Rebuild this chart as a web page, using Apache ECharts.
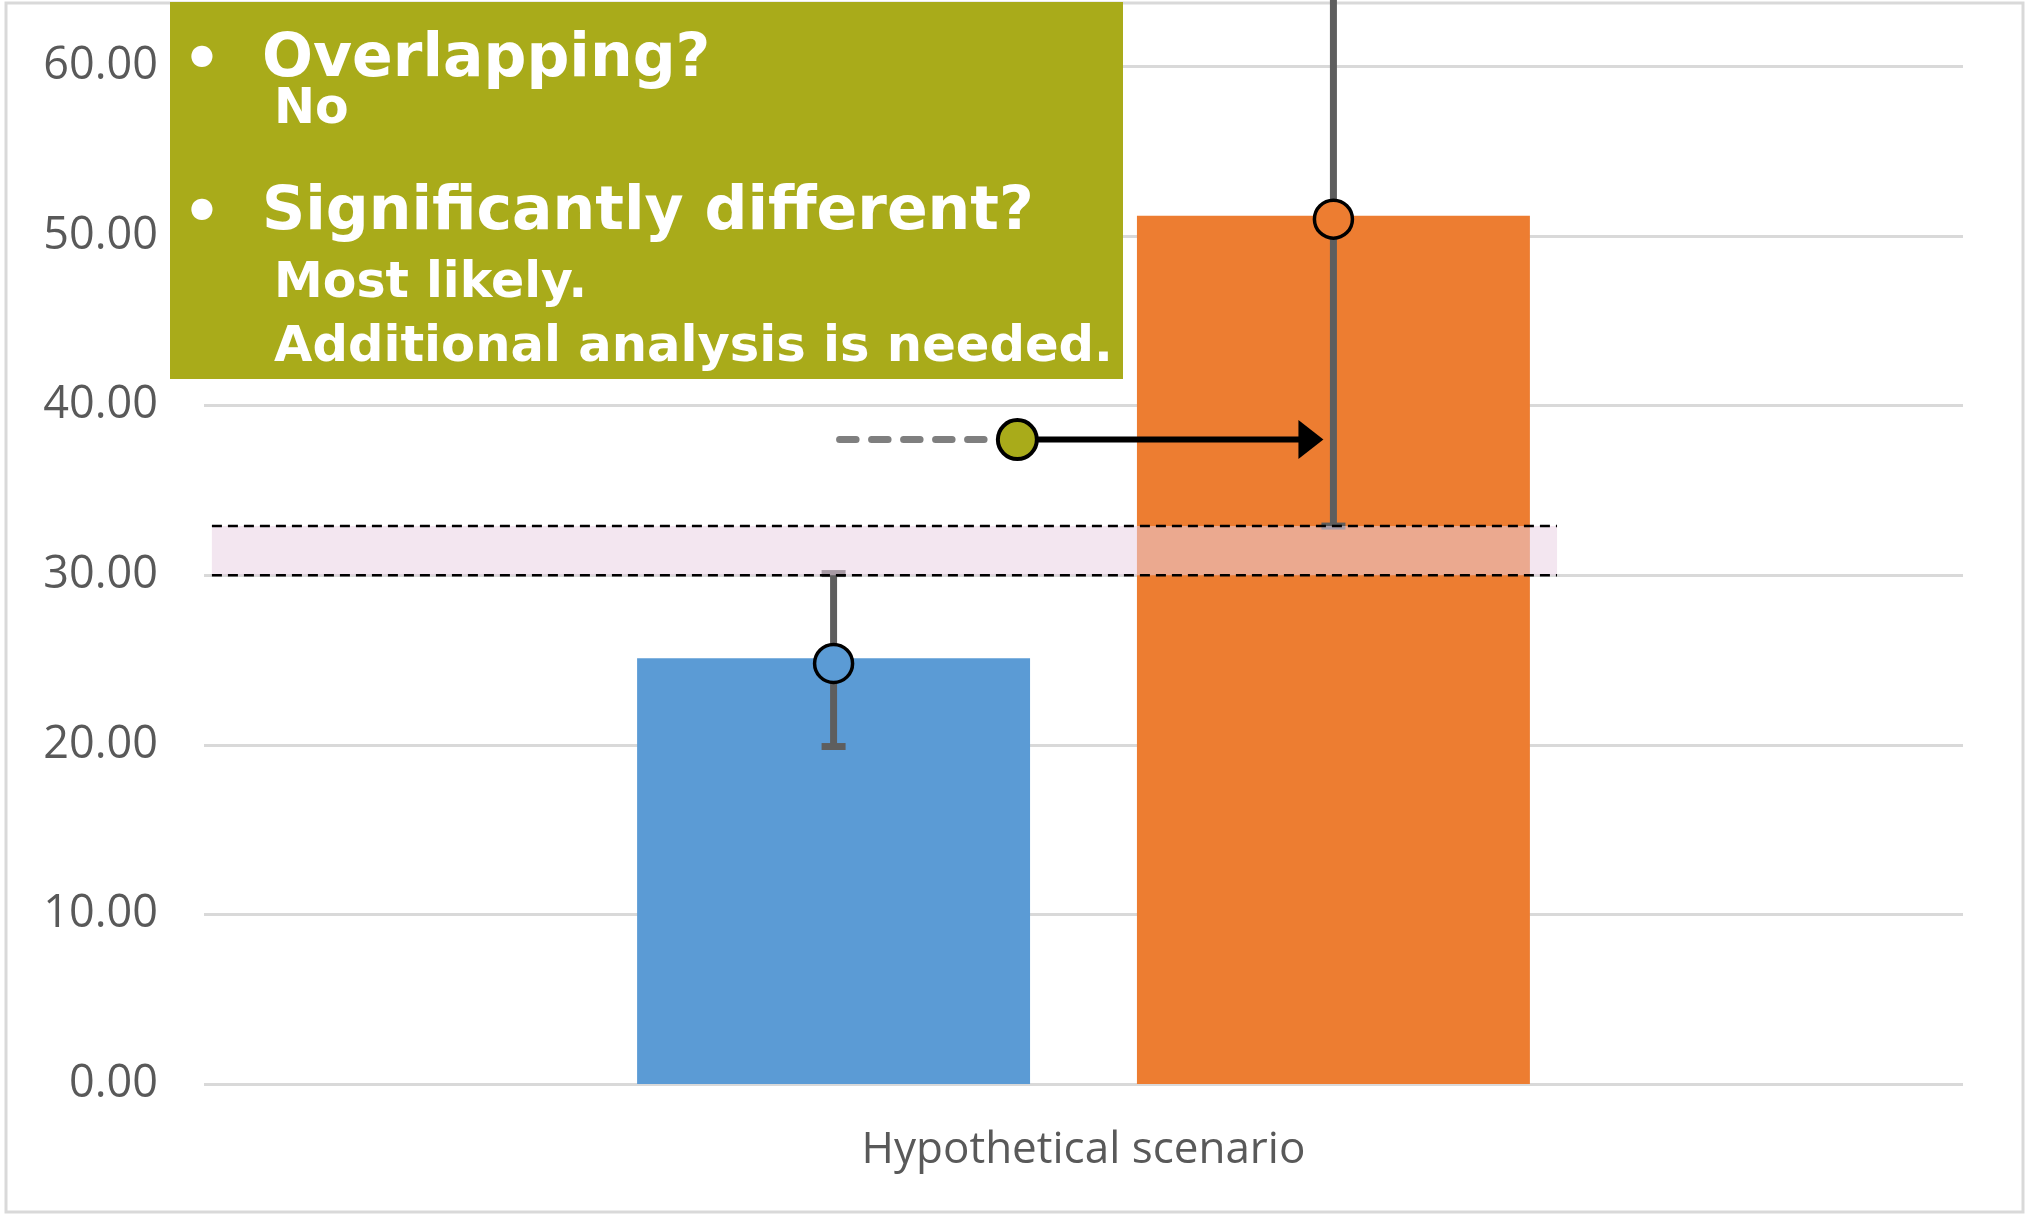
<!DOCTYPE html>
<html>
<head>
<meta charset="utf-8">
<script src="https://cdn.jsdelivr.net/npm/echarts@6/dist/echarts.min.js"></script>
<style>
html,body{margin:0;padding:0;background:#ffffff;}
#chart{width:2028px;height:1215px;}
</style>
</head>
<body>
<div id="chart"></div>
<script>
// ---- data ----
const categories = ['Hypothetical scenario'];
const seriesNames = ['Group A', 'Group B'];
const barValues = [25.1, 51.2];
const pointValues = [24.8, 51.0];
const errorLow = [19.9, 32.9];
const errorHigh = [30.1, 69.1];
const bandRange = [30.0, 32.9];
const arrowLevel = [38];
const yTickValues = [0, 10, 20, 30, 40, 50, 60];
const boxHeadlines = ['Overlapping?', 'Significantly different?'];
const boxAnswers = ['No', 'Most likely.', 'Additional analysis is needed.'];

// ---- layout / style constants ----
const BAR_W = 0.2234;     // bar width as fraction of category band
const BAR_GAP = 0.272;    // gap between bars as fraction of bar width
const colors = ['#5b9bd5', '#ed7d31'];
const OLIVE = '#a9ab1a';
const ERR = '#5e5e5e';

function groupOffset(i, band) {
  return (i - (seriesNames.length - 1) / 2) * band * BAR_W * (1 + BAR_GAP);
}

const chart = echarts.init(document.getElementById('chart'), null, {renderer: 'canvas'});

const option = {
  backgroundColor: '#ffffff',
  animation: false,
  grid: {left: 204, right: 65, top: 66.5, bottom: 131, containLabel: false},
  xAxis: {
    type: 'category',
    data: categories,
    axisLine: {show: false},
    axisTick: {show: false},
    axisLabel: {
      color: '#595959', fontSize: 44, fontFamily: '"Open Sans", sans-serif', margin: 44
    }
  },
  yAxis: {
    type: 'value',
    min: yTickValues[0],
    max: yTickValues[yTickValues.length - 1],
    interval: yTickValues[1] - yTickValues[0],
    axisLine: {show: false},
    axisTick: {show: false},
    axisLabel: {
      color: '#595959', fontSize: 45, fontFamily: '"Open Sans", sans-serif', margin: 46,
      formatter: v => v.toFixed(2)
    },
    splitLine: {lineStyle: {color: '#d9d9d9', width: 3}}
  },
  series: [
    {
      name: seriesNames[0], type: 'bar', data: [barValues[0]],
      barWidth: (BAR_W * 100) + '%', barGap: (BAR_GAP * 100) + '%',
      itemStyle: {color: colors[0]}, z: 2
    },
    {
      name: seriesNames[1], type: 'bar', data: [barValues[1]],
      barWidth: (BAR_W * 100) + '%', barGap: (BAR_GAP * 100) + '%',
      itemStyle: {color: colors[1]}, z: 2
    },
    {
      name: 'error', type: 'custom', clip: false, z: 3,
      data: seriesNames.map((n, i) => [0, errorLow[i], errorHigh[i], i]),
      renderItem: function (params, api) {
        const i = api.value(3);
        const band = api.size([1, 0])[0];
        const cx = api.coord([api.value(0), 0])[0] + groupOffset(i, band);
        const yLo = api.coord([api.value(0), api.value(1)])[1];
        const yHi = api.coord([api.value(0), api.value(2)])[1];
        return {
          type: 'group',
          children: [
            {type: 'line', shape: {x1: cx, y1: yLo, x2: cx, y2: yHi}, style: {stroke: ERR, lineWidth: 7}},
            {type: 'rect', shape: {x: cx - 12, y: yLo - 3.5, width: 24, height: 7}, style: {fill: ERR}},
            {type: 'rect', shape: {x: cx - 12, y: yHi - 3.5, width: 24, height: 7}, style: {fill: ERR}}
          ]
        };
      }
    },
    {
      name: 'band', type: 'custom', clip: false, z: 4,
      data: [[0, bandRange[0], bandRange[1]]],
      renderItem: function (params, api) {
        const band = api.size([1, 0])[0];
        const cx = api.coord([api.value(0), 0])[0];
        const x0 = cx - 0.4955 * band;
        const x1 = cx + 0.2692 * band;
        const yLo = api.coord([api.value(0), api.value(1)])[1];
        const yHi = api.coord([api.value(0), api.value(2)])[1];
        return {
          type: 'group',
          children: [
            {type: 'rect', shape: {x: x0, y: yHi, width: x1 - x0, height: yLo - yHi},
             style: {fill: 'rgba(232,208,226,0.53)'}},
            {type: 'line', shape: {x1: x0, y1: yHi, x2: x1, y2: yHi},
             style: {stroke: '#000', lineWidth: 2.5, lineDash: [10, 6]}},
            {type: 'line', shape: {x1: x0, y1: yLo, x2: x1, y2: yLo},
             style: {stroke: '#000', lineWidth: 2.5, lineDash: [10, 6]}}
          ]
        };
      }
    },
    {
      name: 'points', type: 'custom', clip: false, z: 5,
      data: seriesNames.map((n, i) => [0, pointValues[i], i]),
      renderItem: function (params, api) {
        const i = api.value(2);
        const band = api.size([1, 0])[0];
        const p = api.coord([api.value(0), api.value(1)]);
        return {
          type: 'circle',
          shape: {cx: p[0] + groupOffset(i, band), cy: p[1], r: 19},
          style: {fill: colors[i], stroke: '#000', lineWidth: 3.5}
        };
      }
    },
    {
      name: 'arrow', type: 'custom', clip: false, z: 6,
      data: arrowLevel.map(v => [0, v]),
      renderItem: function (params, api) {
        const band = api.size([1, 0])[0];
        const p = api.coord([api.value(0), api.value(1)]);
        const y = p[1];
        const xA = p[0] + groupOffset(0, band);
        const xB = p[0] + groupOffset(1, band);
        const xDot = p[0] - 0.0376 * band;
        const tip = xB - 10;
        return {
          type: 'group',
          children: [
            {type: 'line', shape: {x1: xA + 6, y1: y, x2: xDot - 32, y2: y},
             style: {stroke: '#7f7f7f', lineWidth: 7, lineCap: 'round', lineDash: [16.5, 15.5]}},
            {type: 'line', shape: {x1: xDot, y1: y, x2: tip - 22, y2: y},
             style: {stroke: '#000', lineWidth: 6}},
            {type: 'polygon', shape: {points: [[tip - 25, y - 19.5], [tip, y], [tip - 25, y + 19.5]]},
             style: {fill: '#000'}},
            {type: 'circle', shape: {cx: xDot, cy: y, r: 19.5},
             style: {fill: OLIVE, stroke: '#000', lineWidth: 4}}
          ]
        };
      }
    }
  ],
  graphic: [
    {type: 'rect', silent: true, z: -10,
     shape: {x: 6, y: 3, width: 2017, height: 1209},
     style: {fill: 'none', stroke: '#d9d9d9', lineWidth: 3}},
    {type: 'rect', silent: true, z: 100,
     shape: {x: 170, y: 2, width: 953, height: 377},
     style: {fill: OLIVE}},
    {type: 'text', silent: true, z: 101, x: 202, y: 63,
     style: {text: '\u2022', fill: '#fff', font: 'bold 60px "DejaVu Sans"', textAlign: 'center', textVerticalAlign: 'middle'}},
    {type: 'text', silent: true, z: 101, x: 202, y: 216,
     style: {text: '\u2022', fill: '#fff', font: 'bold 60px "DejaVu Sans"', textAlign: 'center', textVerticalAlign: 'middle'}},
    {type: 'text', silent: true, z: 101, x: 262, y: 60,
     style: {text: boxHeadlines[0], fill: '#fff', font: 'bold 60px "DejaVu Sans"', textAlign: 'left', textVerticalAlign: 'middle'}},
    {type: 'text', silent: true, z: 101, x: 274, y: 110,
     style: {text: boxAnswers[0], fill: '#fff', font: 'bold 49px "DejaVu Sans"', textAlign: 'left', textVerticalAlign: 'middle'}},
    {type: 'text', silent: true, z: 101, x: 262, y: 213,
     style: {text: boxHeadlines[1], fill: '#fff', font: 'bold 60px "DejaVu Sans"', textAlign: 'left', textVerticalAlign: 'middle'}},
    {type: 'text', silent: true, z: 101, x: 274, y: 284,
     style: {text: boxAnswers[1], fill: '#fff', font: 'bold 49px "DejaVu Sans"', textAlign: 'left', textVerticalAlign: 'middle'}},
    {type: 'text', silent: true, z: 101, x: 274, y: 348,
     style: {text: boxAnswers[2], fill: '#fff', font: 'bold 49.6px "DejaVu Sans"', textAlign: 'left', textVerticalAlign: 'middle'}}
  ]
};

chart.setOption(option);
</script>
</body>
</html>
